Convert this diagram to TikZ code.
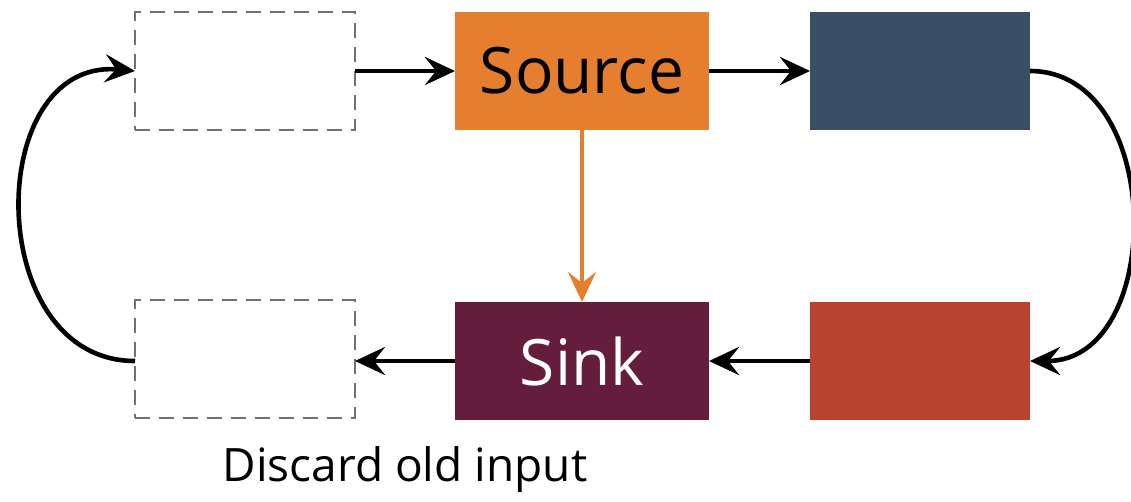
\documentclass[tikz,border=0pt]{standalone}
\usepackage{fontspec}
\setmainfont{Open Sans}
\usetikzlibrary{arrows.meta}
\definecolor{srcorange}{HTML}{E67E30}
\definecolor{slateblue}{HTML}{3A4F66}
\definecolor{sinkplum}{HTML}{641D3B}
\definecolor{brickred}{HTML}{B84430}
\definecolor{dashgray}{HTML}{707070}
\tikzset{
  stage/.style={minimum width=254pt, minimum height=118pt, inner sep=0pt, outer sep=0pt},
  sidebox/.style={minimum width=220pt, minimum height=118pt, inner sep=0pt, outer sep=0pt},
  emptybox/.style={sidebox, draw=dashgray, line width=1.8pt, dash pattern=on 15pt off 9pt},
  flow/.style={line width=4.6pt, -{Stealth[length=30pt, width=28pt, inset=11pt]}},
  label/.style={font=\fontsize{64}{76}\selectfont}
}
\begin{document}
\begin{tikzpicture}[x=1pt, y=-1pt]
  \useasboundingbox (0,0) rectangle (1131,501);
  % top row
  \node[emptybox] (inA) at (245,71) {};
  \node[stage, fill=srcorange, label] (src) at (582,71) {Source};
  \node[sidebox, fill=slateblue] (blue) at (920,71) {};
  % bottom row
  \node[emptybox] (inB) at (245,359) {};
  \node[stage, fill=sinkplum, text=white, label] (sink) at (582,361) {Sink};
  \node[sidebox, fill=brickred] (red) at (920,361) {};
  \node[font=\fontsize{46}{54}\selectfont] (cap) at (405,470) {Discard old input};
  % connectors
  \draw[flow] (inA.east) -- (src.west);
  \draw[flow] (src.east) -- (blue.west);
  \draw[flow, srcorange, line width=3.6pt] (src.south) -- (sink.north);
  \draw[flow] (blue.east) to[out=0, in=0, looseness=1.2] (red.east);
  \draw[flow] (red.west) -- (sink.east);
  \draw[flow] (sink.west) -- (sink.west -| inB.east);
  \draw[flow] (inB.west |- sink.west) to[out=180, in=175, looseness=1.35] (inA.west);
\end{tikzpicture}
\end{document}
